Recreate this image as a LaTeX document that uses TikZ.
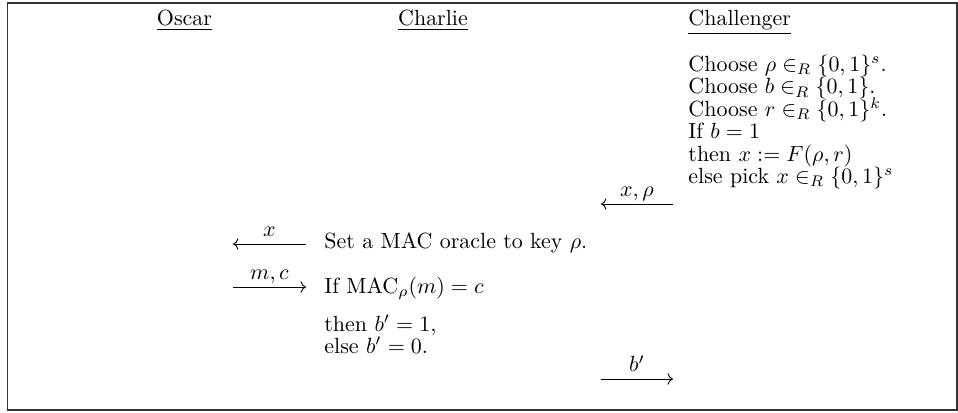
\documentclass[tikz,border=0pt]{standalone}
\usepackage{amsmath, amssymb}
\usepackage{tikz}
\usetikzlibrary{arrows.meta, positioning, calc}

\begin{document}
\begin{tikzpicture}[
    x=0.455pt, y=-0.455pt,
    every node/.style={font=\normalsize},
    party/.style={inner sep=0pt, anchor=base},
    stepbox/.style={inner sep=0pt, align=left, anchor=base west},
    stack/.style={stepbox, anchor=north west, text width=#1,
        font={\fontsize{10pt}{10.2pt}\selectfont\lineskiplimit=-10pt}},
    msg/.style={-{Computer Modern Rightarrow}, line width=0.4pt},
    lab/.style={above, inner sep=1pt, text depth=2pt},
    frame/.style={draw=black!80, line width=0.6pt}
]
    \useasboundingbox (0,0) rectangle (958,412);
    \draw[frame] (7.5,3) rectangle (957,410);

    % the three parties
    \node[party] (oscar) at (184.5,25.5) {\underline{Oscar}};
    \node[party] (charlie) at (433,25.5) {\underline{Charlie}};
    \node[party, anchor=base west] (chal) at (688,25.5) {\underline{Challenger}};

    % challenger picks the key and the value
    \node[stack=110pt] (pick) at (688,54.5) {%
        Choose $\rho \in_R \{0,1\}^s$.\\
        Choose $b \in_R \{0,1\}$.\\
        Choose $r \in_R \{0,1\}^k$.\\
        If $b = 1$\\
        then $x := F(\rho, r)$\\
        else pick $x \in_R \{0,1\}^s$};

    % charlie's side
    \node[stepbox] (oracle) at (324,248) {Set a MAC oracle to key $\rho$.};
    \node[stepbox] (check) at (324,293) {If $\mathrm{MAC}_\rho(m) = c$};
    \node[stack=70pt,
        font={\fontsize{10pt}{9.6pt}\selectfont\lineskiplimit=-10pt}]
        (decide) at (324,315) {then $b' = 1$,\\ else $b' = 0$.};

    % message ends
    \coordinate (xrho-a) at (673,204);
    \coordinate (xrho-b) at (601,204);
    \coordinate (x-a) at (306,244);
    \coordinate (x-b) at (233,244);
    \coordinate (mc-a) at (233,287);
    \coordinate (mc-b) at (306,287);
    \coordinate (bp-a) at (601,379);
    \coordinate (bp-b) at (673,379);

    \draw[msg] (xrho-a) -- node[lab] {$x, \rho$} (xrho-b);
    \draw[msg] (x-a) -- node[lab] {$x$} (x-b);
    \draw[msg] (mc-a) -- node[lab] {$m, c$} (mc-b);
    \draw[msg] (bp-a) -- node[lab] {$b'$} (bp-b);
\end{tikzpicture}
\end{document}
